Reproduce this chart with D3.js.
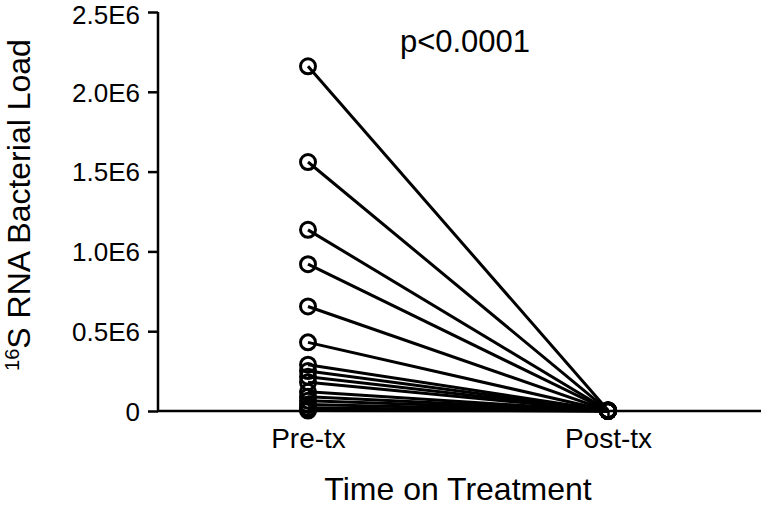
<!DOCTYPE html>
<html><head><meta charset="utf-8">
<script src="https://cdn.jsdelivr.net/npm/d3@7"></script>
<style>body{margin:0;background:#fff}svg{display:block}text{font-family:"Liberation Sans",Arial,sans-serif;fill:#000}</style>
</head><body>
<svg id="c" width="761" height="507"></svg>
<script>
const categories = ["Pre-tx", "Post-tx"];
const preValues = [2160000, 1560000, 1135000, 920000, 655000, 430000, 290000, 250000, 215000, 180000, 120000, 90000, 65000, 40000, 20000, 10000, 3000];
const postValues = [5000, 4000, 3000, 3000, 2000, 2000, 1500, 1000, 1000, 800, 600, 500, 400, 300, 200, 100, 0];
const yTicks = [0, 500000, 1000000, 1500000, 2000000, 2500000];
const yTickLabels = ["0", "0.5E6", "1.0E6", "1.5E6", "2.0E6", "2.5E6"];
const pLabel = "p<0.0001";

const svg = d3.select("#c");
const y = d3.scaleLinear().domain([0, 2500000]).range([411, 12]);
const x = d3.scalePoint().domain(categories).range([308, 608]);

// y axis
const yAxis = d3.axisLeft(y).tickValues(yTicks).tickFormat((d, i) => yTickLabels[i]).tickSize(10).tickPadding(8);
const gy = svg.append("g").attr("transform", "translate(158,0)").call(yAxis);
gy.select(".domain").attr("stroke", "#000").attr("stroke-width", 2.5).attr("d", "M0," + y(2500000) + "V" + y(0));
gy.selectAll(".tick line").attr("stroke-width", 2.5);
gy.selectAll(".tick text").style("font-size", "26px").attr("dy", d => d === 2500000 ? "0.45em" : "0.36em");

// x axis
const xAxis = d3.axisBottom(x).tickSize(7).tickPadding(10);
const gx = svg.append("g").attr("transform", "translate(0," + y(0) + ")").call(xAxis);
gx.select(".domain").attr("stroke", "#000").attr("stroke-width", 2.5).attr("d", "M157,0H761");
gx.selectAll(".tick line").attr("stroke-width", 2.5);
gx.selectAll(".tick text").style("font-size", "28px");

// lines and points
const pairs = preValues.map((v, i) => [v, postValues[i]]);
const g = svg.append("g");
pairs.forEach(p => {
  g.append("line")
    .attr("x1", x(categories[0])).attr("y1", y(p[0]))
    .attr("x2", x(categories[1])).attr("y2", y(p[1]))
    .attr("stroke", "#000").attr("stroke-width", 3);
});
pairs.forEach(p => {
  p.forEach((v, j) => {
    g.append("circle").attr("cx", x(categories[j])).attr("cy", y(v)).attr("r", 7.5)
      .attr("fill", "none").attr("stroke", "#000").attr("stroke-width", 3);
  });
});

// p label
svg.append("text").attr("x", 465).attr("y", 52).attr("text-anchor", "middle").style("font-size", "31px").text(pLabel);

// x title
svg.append("text").attr("x", 458).attr("y", 500).attr("text-anchor", "middle").style("font-size", "32px").text("Time on Treatment");

// y title
const yt = svg.append("text").attr("transform", "translate(30,205) rotate(-90)").attr("text-anchor", "middle").style("font-size", "32px");
yt.append("tspan").attr("baseline-shift", "super").style("font-size", "20px").text("16");
yt.append("tspan").text("S RNA Bacterial Load");
</script>
</body></html>
